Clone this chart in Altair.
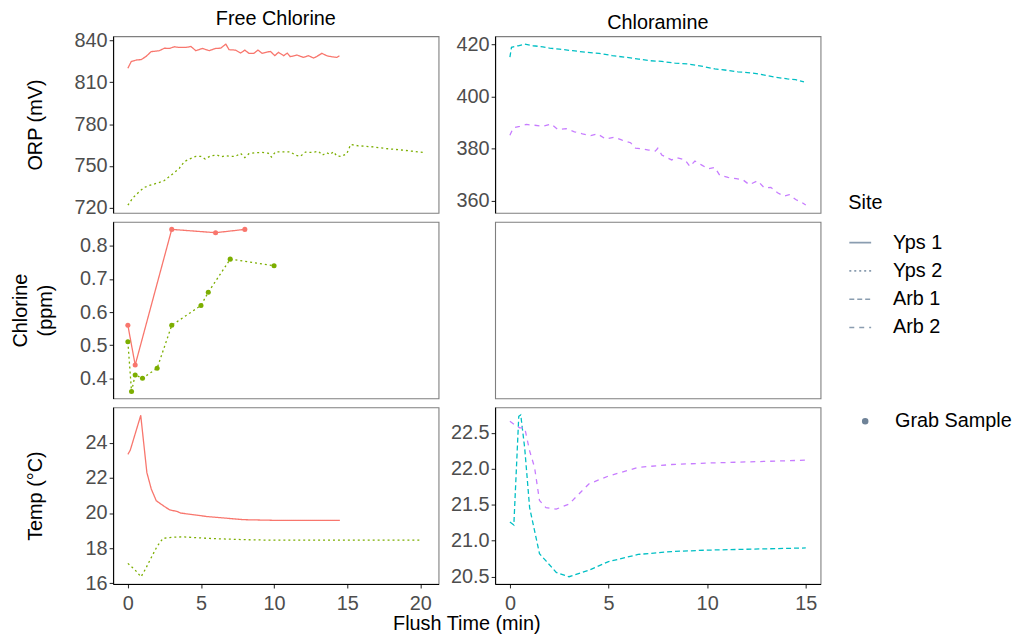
import altair as alt
import pandas as pd

SITES = ["Yps 1", "Yps 2", "Arb 1", "Arb 2"]
COLORS = ["#F8766D", "#7CAE00", "#00BFC4", "#C77CFF"]
DASHES = [[1, 0], [2, 3], [5, 3], [5, 5]]

# ---------------- ORP (mV) ----------------
orp_yps1_t = [0, 0.23, 0.57, 0.91, 1.25, 1.59, 2.16, 2.5, 2.84, 3.18, 3.52, 3.97, 4.31, 4.65, 5.1,
              5.56, 6.0, 6.35, 6.7, 6.92, 7.37, 7.71, 8.0, 8.28, 8.62, 8.9, 9.18, 9.75, 10.05, 10.3,
              10.66, 10.9, 11.1, 11.56, 12.0, 12.36, 12.7, 12.9, 13.27, 13.6, 13.9, 14.3, 14.47]
orp_yps1_v = [820.1, 824.9, 826, 826.3, 828.6, 832, 832.7, 834.5, 834.3, 835.5, 835, 835, 835.7, 832.7,
              834.3, 832.7, 834.3, 834.5, 837.4, 833.4, 833.1, 831, 833.1, 830.8, 830.8, 833.1, 830.8,
              832.2, 829.1, 831.5, 829.1, 831, 828.4, 829.6, 827.9, 829.1, 827.4, 828.4, 830.8, 829.1,
              828.4, 827.9, 829.1]
orp_yps2_t = [0, 0.34, 0.8, 1.14, 1.48, 2.16, 2.5, 2.84, 3.18, 3.52, 3.86, 4.2, 4.65, 4.99, 5.29, 5.67,
              6.12, 6.35, 6.7, 7.03, 7.37, 7.71, 8.0, 8.28, 8.73, 9.18, 9.6, 9.82, 10.1, 10.5, 11.1,
              11.46, 11.8, 12.14, 12.59, 13.04, 13.3, 13.6, 13.84, 14.06, 14.3, 14.6, 14.97, 15.24,
              15.76, 16.67, 17.58, 18.48, 19.39, 20.18]
orp_yps2_v = [721.9, 727.1, 731.8, 734.7, 736.1, 738.2, 739.6, 742.5, 745.3, 748.4, 753.1, 755, 756.9,
              756.9, 755, 757.4, 757.8, 756.6, 757.4, 756.9, 756.9, 759.1, 756, 758.8, 759.5, 759.7,
              759.2, 756.4, 760.2, 760.2, 760.2, 757.8, 756.9, 760, 759.7, 760.5, 757.8, 759.5, 758.3,
              760.2, 757.1, 756.9, 758.8, 765.4, 764.5, 763.8, 762.6, 761.7, 760.7, 759.7]
orp_arb1_t = [0, 0.08, 0.42, 0.75, 1.17, 1.67, 2.01, 2.51, 3.18, 3.85, 4.52, 5.19, 5.86, 6.53, 7.04,
              7.7, 8.38, 9.05, 9.71, 10.39, 10.89, 11.56, 12.23, 12.73, 13.4, 14.07, 14.49, 14.91]
orp_arb1_v = [415.1, 418.9, 419.5, 420.1, 419.5, 419.1, 418.6, 418.2, 417.6, 417, 416.6, 415.7, 415.1,
              414.4, 413.8, 413.5, 412.8, 412.5, 411.7, 410.6, 410.2, 409.5, 409.1, 408.5, 407.5,
              406.8, 406.5, 405.6]
orp_arb2_t = [0, 0.17, 0.5, 0.84, 1.26, 1.67, 2.09, 2.43, 2.85, 3.27, 3.68, 4.1, 4.44, 4.86, 5.28,
              5.69, 6.12, 6.37, 6.7, 7.04, 7.37, 7.5, 7.7, 7.96, 8.2, 8.46, 8.88, 9.13, 9.38, 9.71,
              10.05, 10.39, 10.64, 11.06, 11.47, 11.81, 12.14, 12.56, 12.9, 13.23, 13.57, 13.9,
              14.16, 14.49, 14.82, 15.0]
orp_arb2_v = [385.2, 388, 388.6, 389.3, 389, 388.6, 389.5, 387.4, 387.7, 386.5, 385.7, 385, 385.7,
              383.7, 384.4, 383.3, 382.3, 380.2, 379.9, 379.5, 379.1, 380.2, 377.6, 376.6, 375.7,
              376.6, 375.7, 373.2, 375.3, 373.8, 372.3, 372.8, 369.8, 369, 368.5, 368.1, 366.2,
              367.7, 365, 365.2, 363.1, 361.8, 362.4, 360.5, 359.3, 358.4]

# ---------------- Chlorine grab samples (ppm) ----------------
cl_yps1_t = [0, 0.5, 3, 6, 8]
cl_yps1_v = [0.56, 0.44, 0.85, 0.84, 0.85]
cl_yps2_t = [0, 0.25, 0.5, 1, 2, 3, 5, 5.5, 7, 10]
cl_yps2_v = [0.51, 0.36, 0.41, 0.40, 0.43, 0.56, 0.62, 0.66, 0.76, 0.74]

# ---------------- Temperature (C) ----------------
tp_yps1_t = [0, 0.16, 0.88, 1.3, 1.6, 1.94, 2.5, 2.86, 3.4, 3.6, 5.4, 7.9, 10.2, 14.5]
tp_yps1_v = [23.34, 23.57, 25.56, 22.3, 21.37, 20.7, 20.37, 20.18, 20.08, 20.0, 19.8, 19.62, 19.58, 19.58]
tp_yps2_t = [0, 0.5, 0.9, 1.2, 1.5, 2.0, 2.4, 3.0, 3.75, 5.6, 8, 10, 20.1]
tp_yps2_v = [17.13, 16.75, 16.37, 16.8, 17.3, 18.1, 18.55, 18.62, 18.64, 18.55, 18.48, 18.45, 18.45]
tp_arb1_t = [0, 0.2, 0.45, 0.55, 0.75, 1.0, 1.25, 1.5, 1.83, 2.35, 3.0, 4.0, 5.0, 6.5, 8.2, 10, 15]
tp_arb1_v = [21.26, 21.22, 22.73, 22.75, 22.29, 21.46, 21.14, 20.82, 20.72, 20.56, 20.5, 20.59, 20.71,
             20.81, 20.85, 20.87, 20.9]
tp_arb2_t = [0, 0.25, 0.5, 0.75, 1.0, 1.25, 1.5, 1.83, 2.35, 3.0, 4.0, 5.0, 6.5, 8.2, 10, 15]
tp_arb2_v = [22.66, 22.61, 22.57, 22.57, 22.25, 22.02, 21.56, 21.46, 21.44, 21.51, 21.79, 21.9, 22.02,
             22.06, 22.08, 22.12]


def frame(site, t, v):
    return pd.DataFrame({"Site": site, "SiteType": site, "t": t, "v": v, "kind": "Grab Sample"})


orp_free = pd.concat([frame("Yps 1", orp_yps1_t, orp_yps1_v), frame("Yps 2", orp_yps2_t, orp_yps2_v)])
orp_cham = pd.concat([frame("Arb 1", orp_arb1_t, orp_arb1_v), frame("Arb 2", orp_arb2_t, orp_arb2_v)])
cl_free = pd.concat([frame("Yps 1", cl_yps1_t, cl_yps1_v), frame("Yps 2", cl_yps2_t, cl_yps2_v)])
tp_free = pd.concat([frame("Yps 1", tp_yps1_t, tp_yps1_v), frame("Yps 2", tp_yps2_t, tp_yps2_v)])
tp_cham = pd.concat([frame("Arb 1", tp_arb1_t, tp_arb1_v), frame("Arb 2", tp_arb2_t, tp_arb2_v)])

FONT = "Liberation Sans"
FS = 20
W, H = 328, 178
X_FREE = [-1.01, 21.25]
X_CHAM = [-0.75, 15.75]

# colour scale listed in another order so its (hidden) legend is not merged with the linetype legend
COLOR_ORDER = [2, 3, 0, 1]
color = alt.Color(
    "Site:N",
    scale=alt.Scale(domain=[SITES[i] for i in COLOR_ORDER], range=[COLORS[i] for i in COLOR_ORDER]),
    legend=None,
)
dash = alt.StrokeDash(
    "SiteType:N",
    scale=alt.Scale(domain=SITES, range=DASHES),
    legend=alt.Legend(
        title="Site", orient="none", legendX=741, legendY=158,
        symbolType="stroke", symbolStrokeColor="#8A9DB0", symbolStrokeWidth=1.6,
        symbolSize=484, rowPadding=6.5, labelOffset=21, titlePadding=18,
    ),
)


def xenc(dom, ticks, show, title=None, title_x=0):
    if show:
        kw = dict(values=ticks, format="d", labelPadding=6)
        if title:
            kw.update(title=title, titleX=title_x, titleY=30, titleAlign="center",
                      titleBaseline="top", titleAngle=0)
        else:
            kw.update(title=None)
        axis = alt.Axis(**kw)
    else:
        axis = None
    return alt.X("t:Q", scale=alt.Scale(domain=dom, nice=False, zero=False), axis=axis)


def yenc(dom, ticks, fmt, title=None, title_x=-78):
    kw = dict(values=ticks, format=fmt)
    if title is not None:
        kw.update(title=title, titleX=title_x, titleY=H / 2, titleAlign="center",
                  titleBaseline="middle", titleAngle=-90, titleLineHeight=25)
    else:
        kw.update(title=None)
    return alt.Y("v:Q", scale=alt.Scale(domain=dom, nice=False, zero=False), axis=alt.Axis(**kw))


def line_panel(df, x, y, title=None):
    ch = alt.Chart(df).mark_line(strokeWidth=1.3, clip=True).encode(
        x=x, y=y, color=color, strokeDash=dash, detail="Site:N"
    ).properties(width=W, height=H)
    if title:
        ch = ch.properties(title=alt.TitleParams(title, anchor="middle", offset=2))
    return ch


p11 = line_panel(orp_free, xenc(X_FREE, [0, 5, 10, 15, 20], False),
                 yenc([716.4, 843.05], [720, 750, 780, 810, 840], "d", "ORP (mV)"),
                 "Free Chlorine")
p12 = line_panel(orp_cham, xenc(X_CHAM, [0, 5, 10, 15], False),
                 yenc([355.4, 423.15], [360, 380, 400, 420], "d"),
                 "Chloramine")

cl_x = xenc(X_FREE, [0, 5, 10, 15, 20], False)
cl_y = yenc([0.339, 0.873], [0.4, 0.5, 0.6, 0.7, 0.8], ".1f", ["Chlorine", "(ppm)"], -93)
p21_line = alt.Chart(cl_free).mark_line(strokeWidth=1.3).encode(
    x=cl_x, y=cl_y, color=color, strokeDash=dash)
p21_pts = alt.Chart(cl_free).mark_point(filled=True, opacity=1, size=26).encode(
    x=cl_x, y=cl_y, color=color,
    shape=alt.Shape("kind:N", scale=alt.Scale(domain=["Grab Sample"], range=["circle"]),
                    legend=alt.Legend(title=None, orient="none", legendX=748, legendY=378,
                                      symbolFillColor="#6F8398", symbolStrokeColor="#6F8398",
                                      symbolSize=26, labelOffset=20)))
p21 = alt.layer(p21_line, p21_pts).properties(width=W, height=H)

p22 = alt.Chart(pd.DataFrame({"t": [], "v": []})).mark_point().encode(
    x=alt.X("t:Q", axis=None), y=alt.Y("v:Q", axis=None)
).properties(width=W, height=H)

p31 = line_panel(tp_free,
                 xenc(X_FREE, [0, 5, 10, 15, 20], True, "Flush Time (min)", 356),
                 yenc([15.96, 26.02], [16, 18, 20, 22, 24], "d", "Temp (°C)"))
p32 = line_panel(tp_cham, xenc(X_CHAM, [0, 5, 10, 15], True),
                 yenc([20.4, 22.855], [20.5, 21.0, 21.5, 22.0, 22.5], ".1f"))

chart = alt.concat(
    p11, p12, p21, p22, p31, p32, columns=2, spacing={"row": 9, "column": 57}, bounds="flush"
).properties(
    padding={"left": 10, "top": 5, "right": 5, "bottom": 5}, background="white"
).configure_view(
    stroke="#7F7F7F", strokeWidth=1.1
).configure_axis(
    domainColor="#000000", domainWidth=1.1, tickColor="#333333", tickSize=4, tickWidth=1.1,
    labelColor="#4D4D4D", labelFont=FONT, labelFontSize=FS, labelPadding=2,
    titleFont=FONT, titleFontSize=FS, titleFontWeight="normal", titleColor="#000000", grid=False,
).configure_title(
    font=FONT, fontSize=FS, fontWeight="normal", color="#000000"
).configure_legend(
    labelFont=FONT, labelFontSize=FS, labelColor="#000000", titleFont=FONT, titleFontSize=FS,
    titleFontWeight="normal", titleColor="#000000",
)

chart.save("out.html", embed_options={"renderer": "svg", "actions": False})
